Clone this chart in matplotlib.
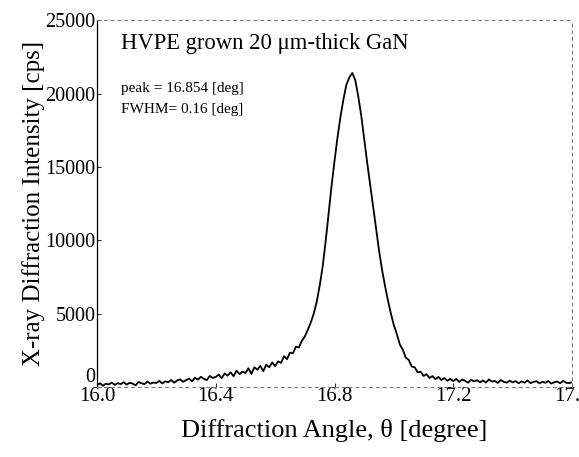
import numpy as np
import matplotlib
matplotlib.use("Agg")
import matplotlib.pyplot as plt

# diffraction scan (0.01 deg steps)
angle = np.round(np.arange(16.0, 17.6001, 0.01), 2)
intensity = [
    120, 260, 90, 230, 180, 310, 150, 270, 200, 330,
    170, 290, 240, 120, 350, 260, 200, 380, 230, 310,
    280, 420, 250, 390, 330, 480, 300, 450, 520, 360,
    470, 580, 390, 640, 510, 700, 560, 480, 760, 620,
    690, 850, 600, 930, 780, 1000, 740, 1120, 880, 1050,
    960, 1280, 900, 1350, 1180, 1450, 1080, 1520, 1350, 1680,
    1420, 1750, 1650, 2100, 1900, 2350, 2300, 2750, 2700, 3150,
    3450, 3900, 4400, 5000, 5800, 6900, 8200, 9900, 11800, 13700,
    15400, 17000, 18400, 19600, 20600, 21100, 21400, 20900, 19800, 18500,
    16900, 15300, 13800, 12300, 10800, 9300, 8000, 6900, 5900, 5000,
    4200, 3600, 2900, 2550, 2000, 1850, 1400, 1350, 1000, 1050,
    760, 880, 620, 750, 540, 690, 480, 620, 430, 560,
    400, 560, 350, 520, 420, 300, 510, 380, 470, 330,
    450, 310, 520, 370, 420, 280, 480, 360, 300, 440,
    320, 410, 260, 380, 300, 450, 270, 350, 400, 250,
    360, 290, 410, 240, 330, 380, 260, 420, 300, 270,
    330,
]

x_ticks = [16.0, 16.4, 16.8, 17.2, 17.6]
x_labels = ["16.0", "16.4", "16.8", "17.2", "17.6"]
y_ticks = [0, 5000, 10000, 15000, 20000, 25000]

plt.rcParams['font.family'] = ['Liberation Serif', 'DejaVu Serif']

fig = plt.figure(figsize=(5.79, 4.57), dpi=100)
ax = fig.add_axes([0.1675, 0.153, 0.8205, 0.803])

ax.plot(angle, intensity, color="black", lw=1.3)

ax.set_xlim(16.0, 17.6)
ax.set_ylim(0, 25000)
ax.set_xticks(x_ticks)
ax.set_xticklabels(x_labels, fontsize=15)
ax.set_yticks(y_ticks)
ax.set_yticklabels([str(v) for v in y_ticks], fontsize=14.5)
ax.tick_params(axis="both", direction="in", length=3, width=0.6, pad=1)
ax.tick_params(axis="x", pad=0)
# the "0" sits just above the x tick labels, as in the scan
ax.get_yticklabels()[0].set_verticalalignment("bottom")

# scanned-looking frame
ax.spines["left"].set_linewidth(0.9)
for s in ["top", "bottom", "right"]:
    ax.spines[s].set_linestyle((0, (3, 4)))
    ax.spines[s].set_linewidth(0.7)
    ax.spines[s].set_color("0.45")

ax.set_xlabel("Diffraction Angle, θ [degree]", fontsize=19, labelpad=9)
ax.set_ylabel("X-ray Diffraction Intensity [cps]", fontsize=18, labelpad=0)

ax.text(0.05, 0.965, "HVPE grown 20 μm-thick GaN", transform=ax.transAxes,
        fontsize=16.3, va="top")
ax.text(0.05, 0.83, "peak = 16.854 [deg]", transform=ax.transAxes,
        fontsize=11, va="top")
ax.text(0.05, 0.775, "FWHM= 0.16 [deg]", transform=ax.transAxes,
        fontsize=11, va="top")

fig.savefig("out.png", dpi=100)
